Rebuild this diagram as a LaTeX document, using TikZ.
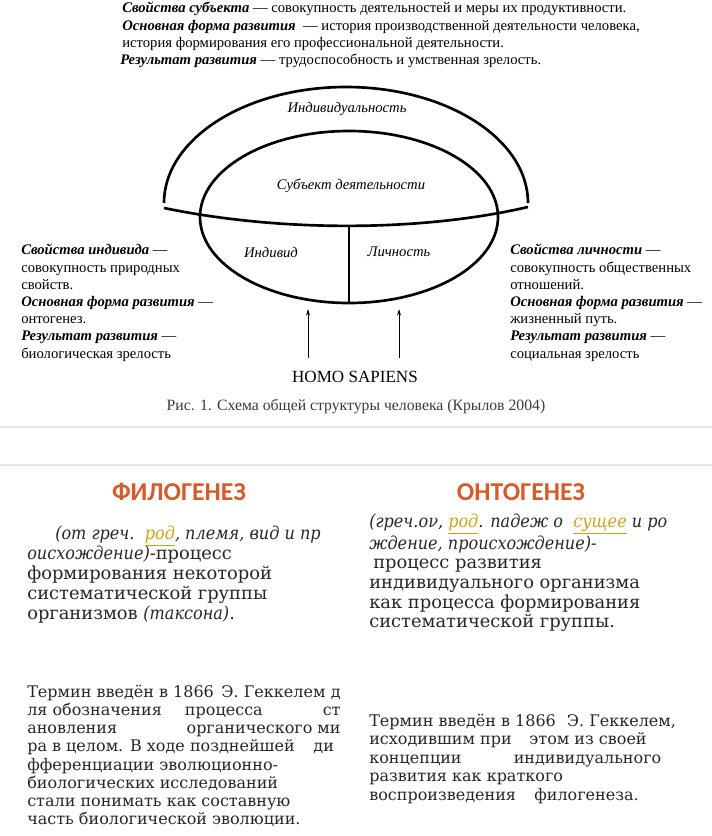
\documentclass[tikz,border=0pt]{standalone}
\usepackage{fontspec}
\setmainfont{Liberation Serif}
\newfontfamily\slidefont{DejaVu Serif}[ItalicFeatures={FakeStretch=0.9}]
\newfontfamily\headfont{Carlito}
\usepackage{xcolor}
\usetikzlibrary{arrows.meta, positioning}

\definecolor{hdorange}{HTML}{D65A2C}
\definecolor{wordgold}{HTML}{C9A417}
\definecolor{rulegrey}{HTML}{E6E6E6}
\definecolor{capgrey}{HTML}{3A3A3A}
\definecolor{slidetext}{HTML}{262626}

\newcommand{\bi}[1]{\textbf{\textit{#1}}}
\newcommand{\goldword}[1]{\textcolor{wordgold}{\underline{#1}}}

\begin{document}
\begin{tikzpicture}[x=0.75pt, y=-0.75pt,
  shell/.style={line width=2pt},
  divider/.style={line width=1pt},
  upward/.style={-{Stealth[length=5pt, width=3pt]}, line width=0.7pt},
  txt/.style={inner sep=0, anchor=north west, align=left, font=\fontsize{11}{12.9}\selectfont},
  lbl/.style={inner sep=0, font=\fontsize{11}{13}\selectfont\itshape},
  heading/.style={inner sep=0, text=hdorange, font=\headfont\bfseries\fontsize{19.3}{21}\selectfont},
  slide/.style={inner sep=0, anchor=north west, align=left, text=slidetext}
]
  \useasboundingbox (0,0) rectangle (712,836);

  \node[txt] (subjtxt) at (122,2) {\bi{Свойства субъекта} — совокупность деятельностей и меры их продуктивности.\\
    \bi{Основная форма развития}\ \ — история производственной деятельности человека,\\
    история формирования его профессиональной деятельности.\\
    \hspace*{-1.5pt}\bi{Результат развития} — трудоспособность и умственная зрелость.};

  \draw[shell] (164,203) arc[start angle=180, end angle=360, x radius=182, y radius=116];
  \draw[shell] (349,217) ellipse[x radius=149, y radius=86];
  \draw[shell] (164,208) .. controls (280,232) and (420,232) .. (528,207);

  \coordinate (split) at (349,226);
  \coordinate (base) at (349,303);
  \draw[divider] (split) -- (base);

  \node[lbl] (indiv) at (347,109) {Индивидуальность};
  \node[lbl] (subj) at (351,186) {Субъект деятельности};
  \node[lbl] (ind) at (271,252) {Индивид};
  \node[lbl] (pers) at (399,252) {Личность};

  \node[txt] (indtxt) at (21,244) {\bi{Свойства индивида} —\\
    совокупность природных\\
    свойств.\\
    \bi{Основная форма развития} —\\
    онтогенез.\\
    \bi{Результат развития} —\\
    биологическая зрелость};
  \node[txt] (perstxt) at (510,244) {\bi{Свойства личности} —\\
    совокупность общественных\\
    отношений.\\
    \bi{Основная форма развития} —\\
    жизненный путь.\\
    \bi{Результат развития} —\\
    социальная зрелость};

  \node[inner sep=0, font=\fontsize{12.8}{14}\selectfont] (homo) at (355,377) {HOMO SAPIENS};
  \coordinate (fromL) at (308,358);
  \coordinate (toL) at (308,309);
  \coordinate (fromR) at (399,358);
  \coordinate (toR) at (399,309);
  \draw[upward] (fromL) -- (toL);
  \draw[upward] (fromR) -- (toR);

  \node[inner sep=0, text=capgrey, font=\fontsize{11.8}{13}\selectfont] (caption) at (356,407) {Рис. 1. Схема общей структуры человека (Крылов 2004)};

  \draw[rulegrey, line width=1pt] (0,427) -- (712,427);
  \draw[rulegrey, line width=2.2pt] (0,465) -- (712,465);

  \node[heading] (phylo) at (179,492) {ФИЛОГЕНЕЗ};
  \node[heading] (onto) at (521,492) {ОНТОГЕНЕЗ};

  \node[slide, font=\slidefont\fontsize{13.4}{15}\selectfont] (phylodef) at (27,526) {\hspace*{21pt}\textit{(от греч.\ \ \goldword{род}, племя, вид и пр}\\
    \textit{оисхождение)}-процесс\\
    формирования некоторой\\
    систематической группы\\
    организмов \textit{(таксона)}.};
  \node[slide, font=\slidefont\fontsize{13.4}{14.7}\selectfont] (ontodef) at (369,514) {\textit{(греч.ον, \goldword{род}. падеж о\ \ \goldword{сущее} и ро}\\
    \textit{ждение, происхождение)-}\\
    \hspace*{3pt}процесс развития\\
    индивидуального организма\\
    как процесса формирования\\
    систематической группы.};

  \node[slide, font=\slidefont\fontsize{12}{13.6}\selectfont] (phylonote) at (27,685) {\makebox[235pt]{Термин введён в 1866\hspace{\stretch{1}}Э. Геккелем\hspace{\stretch{0.7}}д}\\
    \makebox[235pt]{ля обозначения\hspace{\stretch{1}}процесса\hspace{\stretch{2.6}}ст}\\
    \makebox[235pt]{ановления\hfill органического ми}\\
    \makebox[230pt]{ра в целом. В ходе позднейшей\hfill ди}\\
    фференциации эволюционно-\\
    биологических исследований\\
    стали понимать как составную\\
    часть биологической эволюции.};
  \node[slide, font=\slidefont\fontsize{12}{13.8}\selectfont] (ontonote) at (369,714) {\makebox[230pt]{Термин введён в 1866\hfill Э. Геккелем,}\\
    \makebox[208pt]{исходившим при\hfill этом из своей}\\
    \makebox[219pt]{концепции\hfill индивидуального}\\
    развития как краткого\\
    \makebox[202pt]{воспроизведения\hfill филогенеза.}};
\end{tikzpicture}
\end{document}
